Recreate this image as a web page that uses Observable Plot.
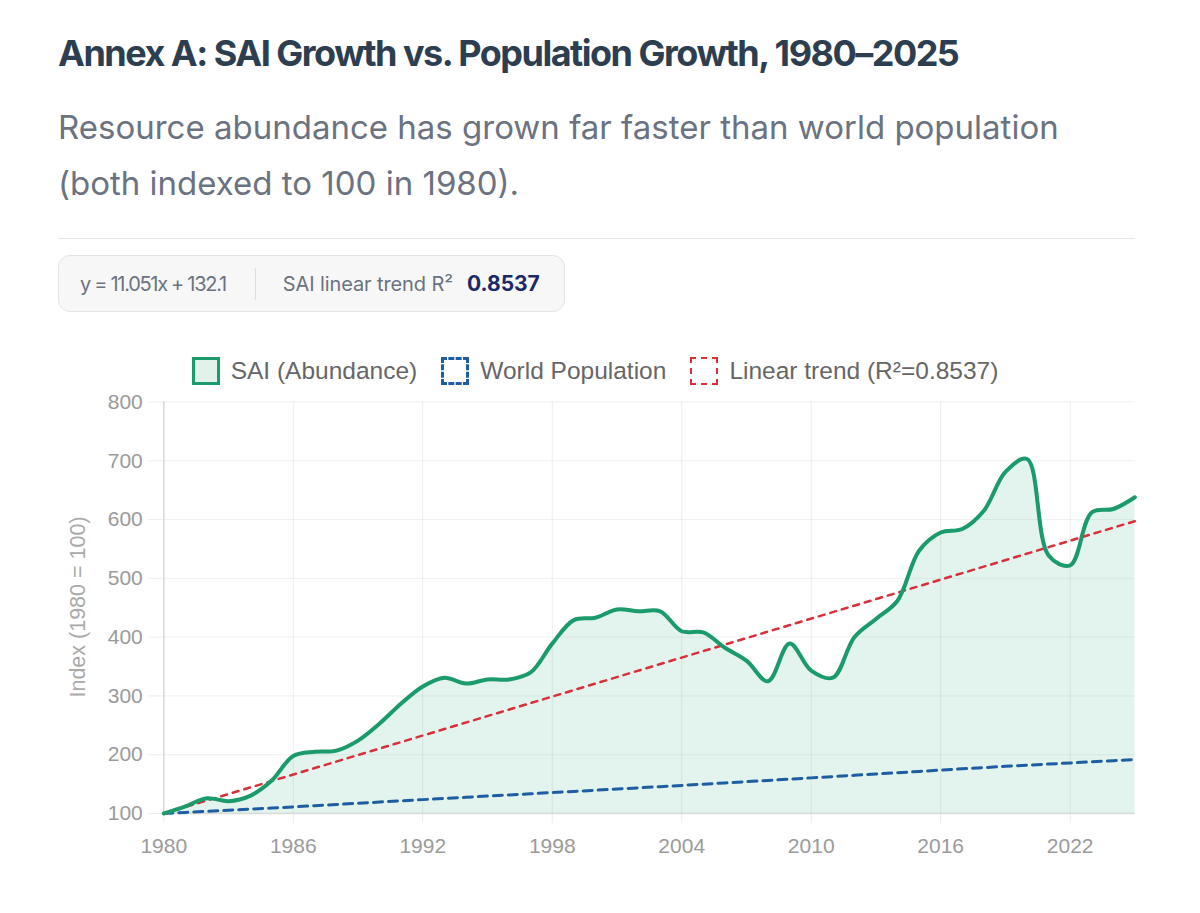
<!DOCTYPE html>
<html>
<head>
<meta charset="utf-8">
<script src="https://cdn.jsdelivr.net/npm/d3@7"></script>
<script src="https://cdn.jsdelivr.net/npm/@observablehq/plot@0.6"></script>
<style>
  html, body { margin: 0; padding: 0; background: #fff; }
  body { width: 1200px; height: 913px; position: relative; overflow: hidden; }
  .title { position: absolute; left: 58px; top: 31px; font: 700 36px Inter, sans-serif; color: #2c3e50; letter-spacing: -1.5px; white-space: nowrap; }
  .subtitle { position: absolute; left: 58px; top: 99px; width: 1080px; font: 400 33px/56px Inter, sans-serif; color: #6b7280; letter-spacing: 0; }
  .rule { position: absolute; left: 58px; top: 238px; width: 1077px; height: 1px; background: #e6e6e6; }
  .stat { position: absolute; left: 58px; top: 255px; width: 507px; height: 57px; box-sizing: border-box; background: #f7f7f7; border: 1px solid #e4e4e4; border-radius: 12px; display: flex; align-items: center; font-family: Inter, sans-serif; }
  .stat .eq { margin-left: 21px; font-size: 20px; color: #6b7280; letter-spacing: -1.3px; }
  .stat .sep { width: 1px; height: 32px; background: #dedede; margin: 0 27px 0 29px; }
  .stat .lbl { font-size: 20px; color: #6b7280; letter-spacing: -0.1px; }
  .stat .val { margin-left: 14px; font-size: 21px; font-weight: 700; color: #1b2a66; }
  .legend { position: absolute; left: 0; width: 1200px; top: 357px; display: flex; justify-content: center; align-items: center; font: 24.5px "Liberation Sans", Arial, sans-serif; color: #666; padding-right: 10px; box-sizing: border-box; }
  .legend .item { display: flex; align-items: center; margin: 0 12px; }
  .legend .sw { width: 28px; height: 28px; box-sizing: border-box; margin-right: 11px; }
  .ylabel { position: absolute; left: 78px; top: 607px; transform: translate(-50%, -50%) rotate(-90deg); font: 21.5px "Liberation Sans", Arial, sans-serif; color: #aaa; white-space: nowrap; }
  #chart { position: absolute; left: 0; top: 390px; }
</style>
</head>
<body>
<div class="title">Annex A: SAI Growth vs. Population Growth, 1980–2025</div>
<div class="subtitle">Resource abundance has grown far faster than world population (both indexed to 100 in 1980).</div>
<div class="rule"></div>
<div class="stat">
  <span class="eq">y = 11.051x + 132.1</span>
  <span class="sep"></span>
  <span class="lbl">SAI linear trend R²</span>
  <span class="val">0.8537</span>
</div>
<div class="legend" id="legend"></div>
<div class="ylabel">Index (1980 = 100)</div>
<div id="chart"></div>
<script>
// Years on the x axis
const years = [1980, 1981, 1982, 1983, 1984, 1985, 1986, 1987, 1988, 1989,
  1990, 1991, 1992, 1993, 1994, 1995, 1996, 1997, 1998, 1999,
  2000, 2001, 2002, 2003, 2004, 2005, 2006, 2007, 2008, 2009,
  2010, 2011, 2012, 2013, 2014, 2015, 2016, 2017, 2018, 2019,
  2020, 2021, 2022, 2023, 2024, 2025];

// SAI (Abundance) index, 1980 = 100
const sai = [100, 112, 126, 121, 130, 156, 198, 205, 207, 224,
  253, 287, 316, 331, 321, 328, 328, 340, 389, 429,
  433, 447, 444, 444, 410, 408, 382, 360, 325, 389,
  343, 331, 400, 431, 462, 547, 578, 584, 615, 681,
  703, 539, 522, 612, 618, 638];

// World population index, 1980 = 100
const population = [100, 101.8, 103.6, 105.5, 107.4, 109.3, 111.3, 113.3, 115.4, 117.4,
  119.5, 121.6, 123.6, 125.6, 127.6, 129.6, 131.6, 133.6, 135.6, 137.6,
  139.6, 141.6, 143.7, 145.7, 147.8, 149.9, 152.0, 154.1, 156.3, 158.4,
  160.6, 162.8, 165.0, 167.2, 169.4, 171.6, 173.8, 176.0, 178.1, 180.2,
  182.2, 184.1, 186.0, 187.9, 189.9, 191.8];

// Linear trend of SAI: slope per year and the level where it starts in 1980
const trendSlope = 11.051;
const trendStartYear = 1980;
const trendEndYear = 2025;
const trendStartValue = 100;
const trendR2 = 0.8537;

// Axis ticks
const xTicks = [1980, 1986, 1992, 1998, 2004, 2010, 2016, 2022];
const yTicks = [100, 200, 300, 400, 500, 600, 700, 800];

// Series names and colours
const seriesNames = ["SAI (Abundance)", "World Population", `Linear trend (R²=${trendR2})`];
const green = "#1b9a6c", blue = "#1f5da3", red = "#d8303a";

const rows = years.map((year, i) => ({year, sai: sai[i], population: population[i]}));
const trend = [trendStartYear, trendEndYear].map(year => ({
  year, value: trendStartValue + trendSlope * (year - trendStartYear)
}));

// Legend swatches
const legend = document.getElementById("legend");
const swatches = [
  `background:#e2f2ea;border:3.5px solid ${green};`,
  `background:#fff;border:3px dashed ${blue};`,
  `background:#fff;border:2.5px dashed ${red};`
];
seriesNames.forEach((name, i) => {
  const item = document.createElement("div");
  item.className = "item";
  item.innerHTML = `<span class="sw" style="${swatches[i]}"></span><span>${name}</span>`;
  legend.appendChild(item);
});

const chart = Plot.plot({
  width: 1200,
  height: 480,
  marginTop: 11.5,
  marginBottom: 57,
  marginLeft: 163.3,
  marginRight: 65.6,
  style: {fontFamily: "'Liberation Sans', Arial, sans-serif", background: "transparent"},
  x: {domain: [1980, 2025]},
  y: {domain: [100, 800]},
  marks: [
    Plot.gridX(xTicks, {stroke: "#000", strokeOpacity: 0.07}),
    Plot.gridY(yTicks, {stroke: "#000", strokeOpacity: 0.06}),
    Plot.axisY(yTicks, {tickSize: 15, tickPadding: 6, stroke: "#ececec", fill: "#9a9a9a", fontSize: 21, label: null}),
    Plot.axisX(xTicks, {tickSize: 10, tickPadding: 15, stroke: "#ececec", fill: "#9a9a9a", fontSize: 21, label: null, tickFormat: d => String(d)}),
    Plot.ruleY([100], {stroke: "#dadada", strokeWidth: 1.5}),
    Plot.ruleX([1980], {stroke: "#dadada", strokeWidth: 1.5}),
    Plot.areaY(rows, {x: "year", y1: 100, y2: "sai", fill: green, fillOpacity: 0.12, curve: "catmull-rom"}),
    Plot.lineY(rows, {x: "year", y: "population", stroke: blue, strokeWidth: 3, strokeDasharray: "9,6"}),
    Plot.lineY(trend, {x: "year", y: "value", stroke: red, strokeWidth: 2.5, strokeDasharray: "6,6"}),
    Plot.lineY(rows, {x: "year", y: "sai", stroke: green, strokeWidth: 4, curve: "catmull-rom"})
  ]
});
document.getElementById("chart").appendChild(chart);
</script>
</body>
</html>
